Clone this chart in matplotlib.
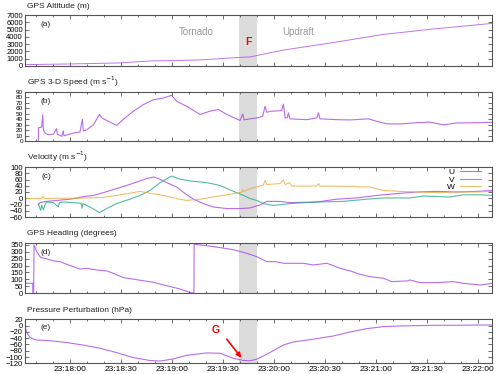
import matplotlib
matplotlib.use("Agg")
import matplotlib.pyplot as plt
from matplotlib.ticker import MultipleLocator, FuncFormatter

plt.rcParams['font.family'] = ['Liberation Sans', 'DejaVu Sans']

# time axis: seconds after 23:17:00
t_lim = (33.5, 308.0)
shade = (159.5, 170.0)

# GPS altitude (m)
alt_t = [33.5, 60, 89, 107, 120, 136, 160, 166, 185, 215, 244, 273, 308]
alt_v = [190, 280, 420, 690, 740, 830, 1190, 1250, 2170, 3230, 4330, 5070, 5850]

# GPS 3-D speed (m/s)
spd_t = [41.3, 41.5, 41.9, 43.3, 43.9, 44.3, 45.3, 47.2, 50.2, 52.1, 52.5, 55.1, 56.0, 56.4,
         61.9, 65.8, 67.2, 67.8, 69.8, 73.7, 77.2, 78.6, 82.5, 87.4, 91.3, 97.2, 103.1, 109.0,
         114.8, 119.7, 122.7, 128.5, 136.4, 142.3, 147.2, 152.1, 159.9, 161.5, 162.3, 165.8,
         169.7, 173.2, 174.6, 175.6, 178.5, 184.4, 185.4, 186.4, 187.7, 188.3, 189.3, 199.1,
         205.0, 206.0, 206.9, 216.7, 224.6, 235.4, 240.3, 246.1, 254.0, 263.8, 271.6, 279.4,
         287.3, 299.0, 308.8]
spd_v = [0, 25, 25, 26, 48.7, 21, 15, 12, 13, 23, 13, 9, 19, 10,
         15, 17, 40, 19, 21, 30, 49, 43, 36.5, 29, 40, 55, 67, 76,
         79, 84, 73, 64, 49, 55, 58, 49, 38, 50, 39, 41,
         42.6, 45.6, 64, 53, 55, 56, 68, 42.6, 43, 52, 41, 39.5,
         42.6, 52, 41, 39.5, 39, 41, 36.5, 32, 31.6, 34, 35, 30,
         33.5, 34, 34.7]

# velocity components (m/s)
u_t = [41.3, 42.3, 46.2, 54.1, 60.0, 67.8, 73.7, 79.6, 87.4, 93.3, 99.2, 105.0, 109.0,
       111.9, 116.8, 122.7, 127.6, 132.5, 138.3, 144.2, 152.1, 159.9, 165.8, 171.7, 175.6,
       183.4, 189.3, 205.0, 216.7, 228.5, 240.3, 252.0, 263.8, 275.5, 287.3, 299.0, 308.8]
u_v = [-21, -14, -10, -6, -3, 5, 9, 18, 31, 41, 52, 63, 68,
       63, 50, 36, 15, -3, -17, -28, -33, -33, -31, -21, -10,
       -10, -14, -12, -3, 1, 9, 15, 20, 22, 20, 22, 25]

v_t = [41.3, 42.7, 43.3, 44.3, 45.3, 46.2, 50.2, 53.1, 53.7, 56.0, 61.9, 66.5, 67.0, 67.5,
       72.7, 77.2, 81.5, 87.4, 95.2, 101.1, 107.0, 112.9, 119.7, 124.6, 132.5, 140.3, 148.1,
       156.0, 161.9, 165.8, 169.7, 173.6, 179.5, 189.3, 205.0, 220.7, 234.4, 244.2, 259.8,
       267.7, 283.3, 291.2, 301.0, 308.8]
v_v = [-17, -39, -22, -37, -20, -12, -14, -28, -14, -12, -14, -16, -32, -17,
       -31, -46, -33, -17, -3, 9, 25, 50, 71, 61, 54, 50, 41,
       22, 9, -1, -7, -17, -23, -17, -12, -10, -3, 1, 1,
       7, 4, 11, 11, 9]

w_t = [33.5, 43.3, 43.9, 44.7, 50.2, 65.8, 69.8, 79.6, 89.4, 97.2, 101.1, 107.0, 114.8,
       122.7, 128.5, 136.4, 144.2, 152.1, 159.9, 161.0, 161.5, 162.0, 165.8, 171.7, 173.6,
       174.6, 175.6, 183.4, 185.4, 186.4, 188.9, 190.3, 205.0, 206.0, 206.9, 224.6, 236.3,
       244.2, 254.0, 263.8, 275.5, 287.3, 299.0, 308.8]
w_v = [-1, -1, 6, -1, 0, 0, 1, 3, 11, 18, 22, 16, 9,
       -1, -7, -3, 4, 11, 18, 20, 28, 21, 31, 39, 42,
       57, 44, 47, 58, 44, 50, 39, 39, 47, 39, 38, 36,
       25, 22, 20, 18, 20, 20, 22]

# GPS heading (degrees)
hdg_t = [33.5, 33.6, 33.8, 38.0, 38.1, 38.6, 38.8, 40.4, 42.7, 45.3, 48.2, 50.2, 54.1, 58.0,
         61.9, 65.8, 69.8, 75.6, 81.5, 85.4, 91.3, 99.2, 109.0, 116.8, 124.6, 130.5, 132.5,
         132.8, 132.9, 140.3, 148.1, 156.0, 163.8, 169.7, 175.6, 180.5, 185.4, 197.1, 203.0,
         210.9, 214.8, 218.7, 224.6, 230.4, 236.3, 244.2, 249.1, 257.9, 259.8, 265.7, 275.5,
         285.3, 291.2, 301.0, 308.8]
hdg_v = [350, 0, 72, 72, 5, 0, 348, 300, 257, 252, 240, 233, 228, 209,
         192, 175, 180, 168, 161, 144, 113, 98, 79, 55, 31, 7, 0,
         0, 353, 343, 329, 314, 288, 264, 228, 228, 216, 216, 204,
         216, 199, 180, 161, 137, 120, 108, 84, 89, 96, 77, 77,
         84, 72, 60, 72]

# pressure perturbation (hPa)
prs_t = [33.5, 34.5, 35.5, 36.4, 38.0, 40.4, 48.2, 58.0, 67.8, 77.6, 87.4, 97.2, 107.0,
         112.9, 120.7, 128.5, 140.3, 148.1, 155.9, 161.9, 165.8, 169.7, 173.6, 179.5, 185.4,
         191.3, 197.1, 205.0, 214.8, 224.6, 234.4, 244.2, 254.0, 263.8, 273.6, 283.4, 308.8]
prs_v = [-5, -20, -31, -37, -42, -46, -48, -54, -62, -72, -86, -102, -111,
         -113, -106, -94.5, -87, -88, -104, -111, -112, -107, -96.6, -79.7, -61.7,
         -52, -47.9, -41.5, -33, -20.3, -9.7, -3.3, -1.2, -0.2, 0.9, 0.9, 2]

purple = '#a23be6'
green = '#1fa57f'
orange = '#eaa93a'

W, H = 500, 374
fig = plt.figure(figsize=(5, 3.74), dpi=100)

# (top px, bottom px) of each panel
boxes = [(15, 66), (92, 141.3), (167, 217), (243.3, 293.3), (319.3, 363.3)]
titles = ['GPS Altitude (m)', 'GPS 3-D Speed (m s$^{-1}$)', 'Velocity (m s$^{-1}$)',
          'GPS Heading (degrees)', 'Pressure Perturbation (hPa)']
title_y = [6, 81.5, 157, 234, 310]
ylims = [(0, 7000), (0, 90), (-60, 100), (0, 360), (-120, 20)]
ysteps = [1000, 10, 20, 50, 20]
ysizes = [5.5, 4.6, 5.5, 5.5, 5.5]
letters = ['(a)', '(b)', '(c)', '(d)', '(e)']


def tlabel(s, pos):
    s = int(round(s))
    return '23:%02d:%02d' % (17 + s // 60, s % 60)


axes = []
for i in range(5):
    top, bot = boxes[i]
    ax = fig.add_axes([25 / W, 1 - bot / H, 467 / W, (bot - top) / H])
    ax.set_xlim(*t_lim)
    ax.set_ylim(*ylims[i])
    ax.axvspan(shade[0], shade[1], color='#dcdcdc', lw=0, zorder=0)
    ax.xaxis.set_major_locator(MultipleLocator(30))
    ax.xaxis.set_minor_locator(MultipleLocator(10))
    ax.yaxis.set_major_locator(MultipleLocator(ysteps[i]))
    ax.tick_params(which='both', direction='in', top=True, right=True,
                   labelsize=ysizes[i], pad=1.5, color='#555555', width=0.6)
    ax.tick_params(which='major', length=2.8)
    ax.tick_params(which='minor', length=1.6)
    for sp in ax.spines.values():
        sp.set_color('#555555')
        sp.set_linewidth(0.8)
    if i < 4:
        ax.tick_params(labelbottom=False)
    else:
        ax.xaxis.set_major_formatter(FuncFormatter(tlabel))
        ax.tick_params(axis='x', labelsize=6, pad=2)
    ax.text(0.045, 0.81, letters[i], transform=ax.transAxes, fontsize=6,
            ha='center', va='center', color='#222222')
    fig.text(27 / W, 1 - title_y[i] / H, titles[i], fontsize=6, ha='left',
             va='center', color='#222222')
    axes.append(ax)

ax_a, ax_b, ax_c, ax_d, ax_e = axes

ax_a.plot(alt_t, alt_v, color=purple, lw=0.7, alpha=0.7)
ax_a.text(134, 4670, 'Tornado', color='#999999', fontsize=7, ha='center', va='center')
ax_a.text(194, 4670, 'Updraft', color='#999999', fontsize=7, ha='center', va='center')
ax_a.text(164.6, 3300, 'F', color='red', fontsize=7.5, fontweight='bold',
          ha='center', va='center')

ax_b.plot(spd_t, spd_v, color=purple, lw=0.8, alpha=0.75)

ax_c.plot(u_t, u_v, color=purple, lw=0.8, alpha=0.75, label='U')
ax_c.plot(v_t, v_v, color=green, lw=0.8, alpha=0.75, label='V')
ax_c.plot(w_t, w_v, color=orange, lw=0.8, alpha=0.75, label='W')
ax_c.legend(loc='upper right', bbox_to_anchor=(0.977, 0.97), markerfirst=False,
            frameon=False, fontsize=6, handlelength=2.6, handletextpad=0.6,
            labelspacing=-0.05, borderpad=0, borderaxespad=0)

ax_d.plot(hdg_t, hdg_v, color=purple, lw=0.8, alpha=0.75)

ax_e.plot(prs_t, prs_v, color=purple, lw=0.8, alpha=0.75)
ax_e.text(145.8, -14, 'G', color='red', fontsize=7.5, fontweight='bold',
          ha='center', va='center')
ax_e.annotate('', xy=(161.7, -109.5), xytext=(151.1, -36.3),
              arrowprops=dict(arrowstyle='-|>', color='red', lw=1.2, mutation_scale=7))

fig.savefig('out.png', dpi=100)
